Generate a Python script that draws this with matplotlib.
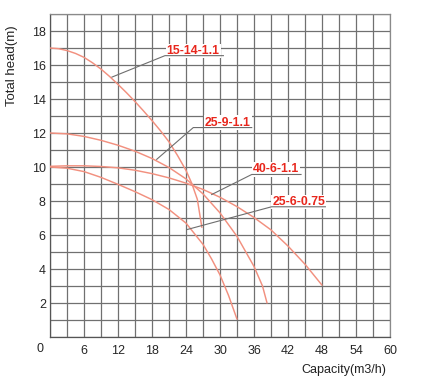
import matplotlib
matplotlib.use('Agg')
import matplotlib.pyplot as plt

plt.rcParams['font.family'] = ['Liberation Sans', 'DejaVu Sans']

# Pump curves: capacity (m3/h) vs total head (m)
q_15_14 = [0, 1.5, 3, 4.5, 6, 7.5, 9, 10.5, 12, 13.5, 15, 16.5, 18, 19.5, 21, 22.5, 24, 25, 26, 26.8]
h_15_14 = [17.0, 16.96, 16.85, 16.68, 16.45, 16.13, 15.76, 15.33, 14.86, 14.37, 13.85, 13.3, 12.73, 12.13, 11.48, 10.68, 9.8, 9.05, 8.1, 6.45]

q_25_9 = [0, 3, 6, 9, 12, 15, 18, 21, 24, 27, 30, 33, 36, 37.5, 38.3]
h_25_9 = [12.0, 11.95, 11.8, 11.57, 11.28, 10.93, 10.5, 9.97, 9.3, 8.42, 7.3, 5.92, 4.15, 3.0, 2.0]

q_40_6 = [0, 3, 6, 9, 12, 15, 18, 21, 24, 27, 30, 33, 36, 39, 42, 45, 48]
h_40_6 = [10.04, 10.07, 10.07, 10.03, 9.95, 9.81, 9.61, 9.36, 9.05, 8.68, 8.22, 7.67, 7.03, 6.3, 5.35, 4.28, 3.05]

q_25_6 = [0, 3, 6, 9, 12, 15, 18, 21, 24, 27, 28.5, 30, 31.5, 33]
h_25_6 = [10.0, 9.93, 9.73, 9.39, 8.98, 8.55, 8.08, 7.5, 6.7, 5.45, 4.6, 3.65, 2.45, 1.05]

model_names = ['15-14-1.1', '25-9-1.1', '40-6-1.1', '25-6-0.75']
x_tick_labels = ['6', '12', '18', '24', '30', '36', '42', '48', '54', '60']
y_tick_labels = ['2', '4', '6', '8', '10', '12', '14', '16', '18']

curve_color = '#f2907f'
text_color = '#e8261c'
grid_color = '#707070'
lead_color = '#6e6e6e'

fig = plt.figure(figsize=(4.24, 3.8), dpi=100)
ax = fig.add_axes([50/424, 43/380, 340/424, 323/380])
ax.set_xlim(0, 60)
ax.set_ylim(0, 19)

# grid
ax.set_xticks(range(0, 61, 3))
ax.set_yticks(range(0, 20))
ax.grid(True, color=grid_color, lw=0.9)
ax.set_axisbelow(True)
xl = []
for v in range(0, 61, 3):
    s = str(v)
    xl.append(s if s in x_tick_labels else '')
yl = []
for v in range(0, 20):
    s = str(v)
    yl.append(s if s in y_tick_labels else '')
ax.set_xticklabels(xl)
ax.set_yticklabels(yl)
ax.tick_params(length=0, labelsize=9, colors='#262626')
ax.tick_params(axis='x', pad=6)
ax.tick_params(axis='y', pad=3)
for sp in ax.spines.values():
    sp.set_color('#8a8a8a')
    sp.set_linewidth(0.9)
ax.spines['left'].set_color('#555555')
ax.spines['bottom'].set_color('#555555')
ax.text(-0.029, -0.037, '0', transform=ax.transAxes, ha='center', va='center',
        fontsize=9, color='#262626')

# curves
for q, h in [(q_15_14, h_15_14), (q_25_9, h_25_9), (q_40_6, h_40_6), (q_25_6, h_25_6)]:
    ax.plot(q, h, color=curve_color, lw=1.05, solid_joinstyle='round',
            solid_capstyle='round', zorder=3)

# labels with leader lines (positions in data coords)
leaders = [
    ((10.94, 15.29), (20.29, 16.55), 30.6, 20.6),
    ((18.83, 10.45), (25.29, 12.32), 35.6, 27.3),
    ((28.53, 8.38), (35.6, 9.56), 44.3, 35.8),
    ((24.18, 6.32), (39.1, 7.66), 48.6, 39.2),
]
for name, (p0, p1, xend, tx) in zip(model_names, leaders):
    ax.text(tx, p1[1] + 0.12, name, color=text_color, fontsize=8.8, fontweight='bold',
            ha='left', va='baseline', zorder=4,
            bbox=dict(facecolor='white', edgecolor='none', pad=0.8))
    ax.plot([p0[0], p1[0], xend], [p0[1], p1[1], p1[1]], color=lead_color, lw=0.8, zorder=5)

fig.text(12/424, 1 - 66/380, 'Total head(m)', rotation=90, ha='center', va='center',
         fontsize=9.5, color='#222222')
fig.text(344/424, 1 - 370/380, 'Capacity(m3/h)', ha='center', va='center',
         fontsize=9, color='#222222')

fig.savefig('out.png', dpi=100)
